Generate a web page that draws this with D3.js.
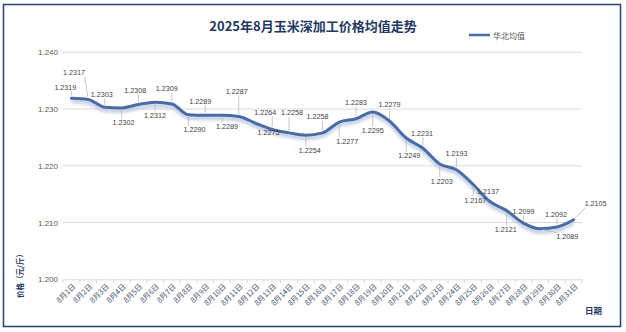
<!DOCTYPE html>
<html>
<head>
<meta charset="utf-8">
<script src="https://cdn.jsdelivr.net/npm/d3@7"></script>
<style>
  html, body { margin: 0; padding: 0; background: #fff; }
  svg { display: block; }
  text { font-family: "Noto Sans CJK SC", "Noto Sans", sans-serif; }
</style>
</head>
<body>
<div id="chart"></div>
<script>
// 2025年8月 华北玉米深加工价格均值（元/斤）
const days = d3.range(1, 32).map(d => `8月${d}日`);
const seriesName = "华北均值";
const values = [
  1.2319, 1.2317, 1.2303, 1.2302, 1.2308, 1.2312, 1.2309, 1.2290, 1.2289, 1.2289,
  1.2287, 1.2275, 1.2264, 1.2258, 1.2254, 1.2258, 1.2277, 1.2283, 1.2295, 1.2279,
  1.2249, 1.2231, 1.2203, 1.2193, 1.2167, 1.2137, 1.2121, 1.2099, 1.2089, 1.2092,
  1.2105
];
const yTicks = [1.200, 1.210, 1.220, 1.230, 1.240];

// Label placement (pixel offset of each value label's centre from its point)
const labelOffsets = [
  [-6, -11], [-14, -27], [-3, -13], [2, 15], [-3, -14], [0, 13], [-5, -15], [6, 15],
  [-5, -14], [5, 11], [-2, -25], [13, 9], [-7, -17], [3, -20], [4, 15], [-5, -16],
  [8, 19], [0, -16], [0, 19], [0, -16], [3, 18], [-1, -15], [2, 17], [0, -16],
  [2, 16], [-2, -10], [-1, 19], [0, -12], [27, 8], [-1, -13], [22, -16]
];

const W = 626, H = 332;
const svg = d3.select("#chart").append("svg").attr("width", W).attr("height", H);

svg.append("rect").attr("x", 0).attr("y", 0).attr("width", W).attr("height", H).attr("fill", "#fff");
// frame
svg.append("rect").attr("x", 3.5).attr("y", 4.5).attr("width", 617).attr("height", 322)
  .attr("fill", "none").attr("stroke", "#2e4a7d").attr("stroke-width", 1.6);

const x = d3.scaleBand().domain(days).range([63, 582]).padding(0);
const y = d3.scaleLinear().domain([1.200, 1.240]).range([279.3, 52.3]);
const cx = d => x(d) + x.bandwidth() / 2;

// gridlines
svg.append("g").selectAll("line").data(yTicks.slice(1)).join("line")
  .attr("x1", 63).attr("x2", 582)
  .attr("y1", d => y(d)).attr("y2", d => y(d))
  .attr("stroke", "#dcdcdc").attr("stroke-width", 1);

// y axis labels
const yAxis = d3.axisLeft(y).tickValues(yTicks).tickFormat(d3.format(".3f")).tickSize(0).tickPadding(5);
const gy = svg.append("g").attr("transform", "translate(63,0)").call(yAxis);
gy.select(".domain").remove();
gy.selectAll("text").attr("fill", "#595959").attr("font-size", 8)
  .style("font-family", "'Liberation Sans', Arial, sans-serif");

// x axis
const xAxis = d3.axisBottom(x).tickSize(0).tickPadding(0);
const gx = svg.append("g").attr("transform", `translate(0,${y(1.200)})`).call(xAxis);
gx.select(".domain").attr("stroke", "#d9d9d9");
gx.selectAll(".tick text")
  .attr("fill", "#44546a").attr("font-size", 7.5)
  .attr("text-anchor", "end")
  .attr("transform", "translate(3,6) rotate(-45)")
  .attr("dy", "0.3em").attr("y", 0).attr("x", 0);
// category boundary ticks
svg.append("g").selectAll("line").data(days.concat(["__end"])).join("line")
  .attr("x1", (d, i) => 63 + i * x.bandwidth())
  .attr("x2", (d, i) => 63 + i * x.bandwidth())
  .attr("y1", y(1.200)).attr("y2", y(1.200) + 4)
  .attr("stroke", "#d9d9d9");

// shadow filter for the series line
const defs = svg.append("defs");
defs.append("filter").attr("id", "soft").attr("x", "-5%").attr("y", "-20%").attr("width", "110%").attr("height", "140%")
  .append("feGaussianBlur").attr("stdDeviation", 1.8);

const line = d3.line()
  .x((d, i) => cx(days[i]))
  .y(d => y(d))
  .curve(d3.curveMonotoneX);

svg.append("path").datum(values)
  .attr("d", line)
  .attr("fill", "none")
  .attr("stroke", "#a9bbd8")
  .attr("stroke-width", 4)
  .attr("opacity", 0.7)
  .attr("transform", "translate(0,3)")
  .attr("filter", "url(#soft)");

svg.append("path").datum(values)
  .attr("d", line)
  .attr("fill", "none")
  .attr("stroke", "#4a6ca6")
  .attr("stroke-width", 3)
  .attr("stroke-linejoin", "round")
  .attr("stroke-linecap", "round");

// value labels with leader lines
const fmt = d3.format(".4f");
const lblW = 21, lblH = 8;
const labels = svg.append("g");
values.forEach((v, i) => {
  const px = cx(days[i]), py = y(v);
  const [dx, dy] = labelOffsets[i];
  const lx = px + dx, ly = py + dy;
  // nearest point on label box
  const bx = Math.max(lx - lblW / 2, Math.min(px, lx + lblW / 2));
  const by = Math.max(ly - lblH / 2, Math.min(py, ly + lblH / 2));
  const dist = Math.hypot(bx - px, by - py);
  if (dist > 6) {
    const ux = (bx - px) / dist, uy = (by - py) / dist;
    labels.append("line")
      .attr("x1", px + ux * 2.5).attr("y1", py + uy * 2.5)
      .attr("x2", bx).attr("y2", by)
      .attr("stroke", "#b0b0b0").attr("stroke-width", 0.7);
  }
  labels.append("text")
    .attr("x", lx).attr("y", ly)
    .attr("text-anchor", "middle").attr("dominant-baseline", "central")
    .attr("font-size", 7.2).attr("fill", "#404040")
    .style("font-family", "'Liberation Sans', Arial, sans-serif")
    .text(fmt(v));
});

// title
svg.append("text").attr("x", 313).attr("y", 31)
  .attr("text-anchor", "middle").attr("font-size", 13).attr("font-weight", "bold")
  .attr("fill", "#1f3864").text("2025年8月玉米深加工价格均值走势");

// legend
svg.append("line").attr("x1", 469).attr("x2", 490).attr("y1", 35).attr("y2", 35)
  .attr("stroke", "#4a6ca6").attr("stroke-width", 2.5);
svg.append("text").attr("x", 493).attr("y", 35).attr("dominant-baseline", "central")
  .attr("font-size", 8).attr("fill", "#595959").text(seriesName);

// axis titles
svg.append("text")
  .attr("transform", "translate(23,298) rotate(-90)")
  .attr("font-size", 7.5).attr("font-weight", "bold").attr("fill", "#1f3864")
  .text("价格（元/斤）");
svg.append("text").attr("x", 585).attr("y", 310).attr("dominant-baseline", "central")
  .attr("font-size", 8.5).attr("font-weight", "bold").attr("fill", "#1f3864").text("日期");
</script>
</body>
</html>
